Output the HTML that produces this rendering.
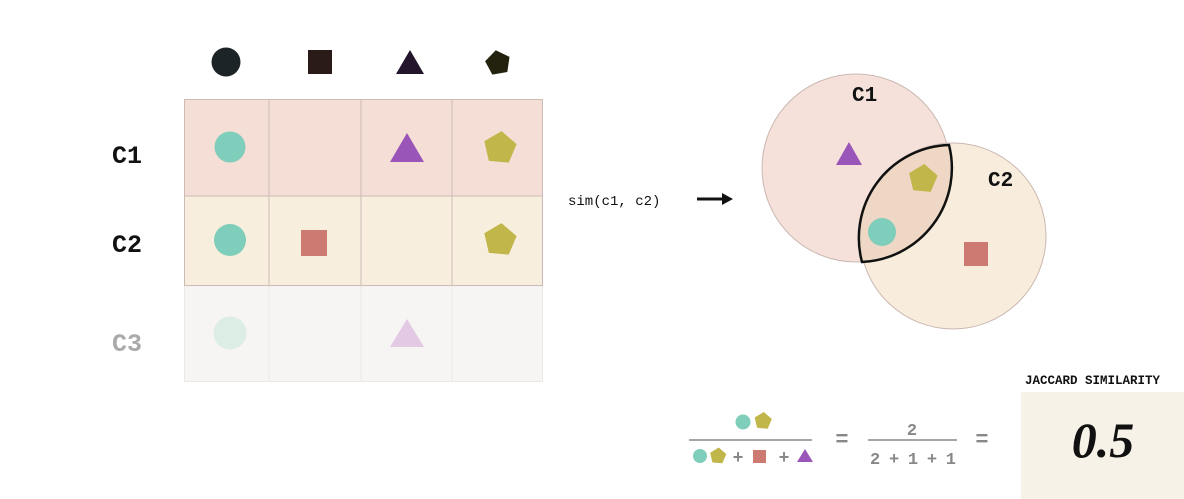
<!DOCTYPE html>
<html><head><meta charset="utf-8"><style>
html,body{margin:0;padding:0;background:#fff;}
svg{display:block;}
</style></head><body>
<svg width="1184" height="499" viewBox="0 0 1184 499" xmlns="http://www.w3.org/2000/svg">
<!-- header icons -->
<circle cx="226" cy="62" r="14.5" fill="#1c2427"/>
<rect x="308" y="50" width="24" height="24" fill="#2a1a18"/>
<polygon points="410,50 424,74 396,74" fill="#23162c"/>
<polygon transform="translate(498,63) rotate(-10)" points="0,-13 12.4,-4 7.6,10.5 -7.6,10.5 -12.4,-4" fill="#22220f"/>
<!-- table rows -->
<rect x="184" y="99" width="359" height="97" fill="#f5ded5"/>
<rect x="184" y="196" width="359" height="90" fill="#f8eedd"/>
<rect x="184" y="286" width="359" height="96" fill="#f7f4f4"/>
<g stroke="#cdbcb6" stroke-width="1" fill="none">
<rect x="184.5" y="99.5" width="358" height="186"/>
<line x1="184" y1="196" x2="543" y2="196"/>
<line x1="269" y1="99" x2="269" y2="286"/>
<line x1="361" y1="99" x2="361" y2="286"/>
<line x1="452" y1="99" x2="452" y2="286"/>
</g>
<g stroke="#ebe7e7" stroke-width="1" fill="none">
<line x1="184.5" y1="286" x2="184.5" y2="382"/>
<line x1="542.5" y1="286" x2="542.5" y2="382"/>
<line x1="184" y1="381.5" x2="543" y2="381.5"/>
<line x1="269" y1="286" x2="269" y2="382"/>
<line x1="361" y1="286" x2="361" y2="382"/>
<line x1="452" y1="286" x2="452" y2="382"/>
</g>
<!-- row labels -->
<g font-family="Liberation Mono, monospace" font-weight="bold" font-size="25">
<text x="112" y="163" fill="#111">C1</text>
<text x="112" y="252" fill="#111">C2</text>
<text x="112" y="351" fill="#aaa">C3</text>
</g>
<!-- row 1 -->
<circle cx="230" cy="147" r="15.5" fill="#7fcdbb"/>
<polygon points="407,133 424,162 390,162" fill="#9a55b8"/>
<polygon transform="translate(500,148) rotate(5)" points="0,-17 16.2,-5.3 10,13.8 -10,13.8 -16.2,-5.3" fill="#c0b64a"/>
<!-- row 2 -->
<circle cx="230" cy="240" r="16" fill="#7fcdbb"/>
<rect x="301" y="230" width="26" height="26" fill="#cd7b72"/>
<polygon transform="translate(500,240) rotate(5)" points="0,-17 16.2,-5.3 10,13.8 -10,13.8 -16.2,-5.3" fill="#c0b64a"/>
<!-- row 3 -->
<circle cx="230" cy="333" r="16.5" fill="#dcede6"/>
<polygon points="407,319 424,347 390,347" fill="#e3c9e4"/>
<!-- sim label -->
<text x="568" y="205" font-family="Liberation Mono, monospace" font-size="14" fill="#111">sim(c1, c2)</text>
<line x1="697" y1="199" x2="724" y2="199" stroke="#111" stroke-width="3"/>
<polygon points="733,199 722,193 722,205" fill="#111"/>
<!-- venn -->
<circle cx="856" cy="168" r="94" fill="#f5e1da" stroke="#cbb8b2" stroke-width="1"/>
<circle cx="953" cy="236" r="93" fill="#f8ecdc" stroke="#cbb8b2" stroke-width="1"/>
<path d="M949,145 A93,93 0 0 0 862,262 A94,94 0 0 0 949,145 Z" fill="#eed8c5" stroke="#111" stroke-width="2.5"/>
<text x="852" y="101" font-family="Liberation Mono, monospace" font-weight="bold" font-size="21" fill="#111">C1</text>
<text x="988" y="186" font-family="Liberation Mono, monospace" font-weight="bold" font-size="21" fill="#111">C2</text>
<polygon points="849,142 862,165 836,165" fill="#9a55b8"/>
<polygon transform="translate(923,179) rotate(5)" points="0,-15 14.3,-4.6 8.8,12.1 -8.8,12.1 -14.3,-4.6" fill="#c0b64a"/>
<circle cx="882" cy="232" r="14" fill="#7fcdbb"/>
<rect x="964" y="242" width="24" height="24" fill="#cd7b72"/>
<!-- formula -->
<circle cx="743" cy="422" r="7.5" fill="#7fcdbb"/>
<polygon transform="translate(763,421) rotate(5)" points="0,-9 8.6,-2.8 5.3,7.3 -5.3,7.3 -8.6,-2.8" fill="#c0b64a"/>
<line x1="689" y1="440" x2="812" y2="440" stroke="#888" stroke-width="1.5"/>
<circle cx="700" cy="456" r="7" fill="#7fcdbb"/>
<polygon transform="translate(718,456) rotate(5)" points="0,-8.5 8.1,-2.6 5,6.9 -5,6.9 -8.1,-2.6" fill="#c0b64a"/>
<text x="738" y="463" font-family="Liberation Mono, monospace" font-weight="bold" font-size="18" fill="#888" text-anchor="middle">+</text>
<rect x="753" y="450" width="13" height="13" fill="#cd7b72"/>
<text x="784" y="463" font-family="Liberation Mono, monospace" font-weight="bold" font-size="18" fill="#888" text-anchor="middle">+</text>
<polygon points="805,449 813,462 797,462" fill="#9a55b8"/>
<text x="842" y="446" font-family="Liberation Mono, monospace" font-weight="bold" font-size="22" fill="#888" text-anchor="middle">=</text>
<text x="912" y="435" font-family="Liberation Mono, monospace" font-weight="bold" font-size="17" fill="#888" text-anchor="middle">2</text>
<line x1="868" y1="440" x2="957" y2="440" stroke="#888" stroke-width="1.5"/>
<text x="870" y="464" font-family="Liberation Mono, monospace" font-weight="bold" font-size="17" fill="#888" textLength="86" lengthAdjust="spacing">2 + 1 + 1</text>
<text x="982" y="446" font-family="Liberation Mono, monospace" font-weight="bold" font-size="22" fill="#888" text-anchor="middle">=</text>
<!-- result box -->
<text x="1025" y="384" font-family="Liberation Mono, monospace" font-weight="bold" font-size="12.5" fill="#111">JACCARD SIMILARITY</text>
<rect x="1021" y="392" width="163" height="107" fill="#f7f2e8"/>
<text x="1103" y="457" font-family="Liberation Serif, serif" font-weight="bold" font-style="italic" font-size="50" fill="#111" text-anchor="middle">0.5</text>
</svg>
</body></html>
